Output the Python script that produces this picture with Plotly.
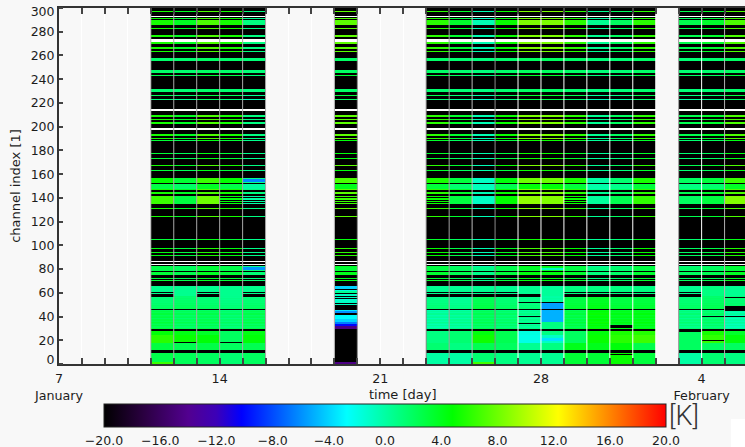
import plotly.graph_objects as go

FONT = "DejaVu Sans"
INK = "#1c1c1c"
BG = "#f8f8f8"

# Time axis (day number counted from 1 January; day 32 = 1 February)
x_tick_days = [7, 14, 21, 28, 35]
x_tick_text = ["7<br>January", "14", "21", "28", "4<br>February"]
all_days = list(range(7, 37))

# Channel axis
y_tick_pos = [3.4, 20, 40, 60, 80, 100, 120, 140, 160, 180, 200, 220, 240, 260, 280, 296.6]
y_tick_text = ["0", "20", "40", "60", "80", "100", "120", "140", "160", "180", "200", "220", "240", "260", "280", "300"]
channels = list(range(0, 301))

# Overall level of each measured day (K), upper channels
day_level = {11: 5.4, 12: 3.8, 13: 7.0, 14: 5.4, 15: 1.0, 19: 7.5,
             23: 6.0, 24: 3.5, 25: -0.5, 26: 5.0, 27: 8.5, 28: 8.5, 29: 6.0,
             30: 0.5, 31: 2.0, 32: 6.0, 34: 2.5, 35: 3.5, 36: 7.0}

# Upper channel lines: first channel, last channel, base (K), share of the day level
line_lo = [297, 291, 286, 283, 276, 270, 266, 263, 256, 246, 243, 230, 226, 223, 209, 206, 203, 193, 190, 188,
           177, 173, 167, 163, 153, 148, 147, 144, 131, 124, 105, 97, 94, 91, 82, 79, 75, 72, 70]
line_hi = [297, 291, 289, 283, 277, 271, 267, 263, 257, 247, 243, 231, 226, 223, 209, 206, 203, 193, 190, 188,
           177, 173, 167, 163, 156, 151, 147, 144, 131, 124, 105, 97, 94, 91, 82, 81, 77, 72, 70]
line_base = [0, -0.5, 0, 0, 0, 0, 0, 0, 1.2, 1.2, 1.0, 1.0, 0, -1, 0, 0, 0, 0, 0, 0,
             0, 0, 0, 0, -0.5, -0.5, 0, 0, 0, 0, 0, 0, 0, 0, 0, 1.0, 1.0, 1.0, 1.0]
line_gain = [1, 1, 1, 1, 1, 1, 1, 1, 0.1, 0.1, 0.3, 0.1, 0.4, 0.4, 1, 1, 1, 1, 1, 0.6,
             0.6, 0.6, 1, 0.6, 1, 0.6, 1, 1, 1, 1, 0.6, 0.8, 0.8, 0.8, 0.5, 0.3, 0.4, 0.4, 0.4]

# Rows without data, drawn white
white_rows = [293, 273, 272, 214, 198, 86, 84]

# Thick band at channels 135-141 (None = only thin lines that day)
thick_days = {11: 6.5, 12: 2.9, 13: 8.0, 14: None, 15: None, 19: None,
              23: None, 24: 2.9, 25: -1.0, 26: 4.8, 27: 9.0, 28: 8.6, 29: None,
              30: 0.2, 31: 2.4, 32: 6.2, 34: 2.0, 35: 2.9, 36: 8.6}
thick_thin_rows = [141, 139, 137, 135]

# Lower bands: channel limits and values (K) per day
low_lo = [0, 12, 18, 25, 30, 47, 59]
low_hi = [9, 17, 24, 27, 45, 57, 65]
low_values = {
    11: [2.6, 2.9, 6.0, 4.6, 2.6, 1.5, 0.6],
    12: [2.2, 2.4, 5.0, 4.2, 2.0, 1.8, 0.6],
    13: [2.0, 2.7, 4.6, 3.6, 2.2, 1.5, 0.6],
    14: [1.5, 2.0, 2.0, 2.0, 1.5, 1.0, 0.6],
    15: [2.0, 2.4, 4.6, 4.2, 2.2, 1.5, 0.6],
    23: [0.0, 1.5, 1.0, 1.0, 0.0, 1.0, 0.5],
    24: [0.0, 1.0, 1.5, 1.5, 0.3, 0.5, 0.5],
    25: [1.5, 2.4, 5.2, 4.4, 2.0, 2.4, 0.5],
    26: [1.0, 2.0, 2.4, 2.4, 1.5, 1.5, 0.5],
    27: [0.5, 0.5, -2.0, -1.8, 0.5, 1.0, 0.5],
    28: [0.5, 1.0, -1.0, 1.0, 1.0, 0.3, 0.3],
    29: [3.2, 4.0, 2.0, 2.0, 2.6, 2.9, 1.0],
    30: [3.2, 4.0, 5.0, 4.5, 4.5, 3.8, 1.0],
    31: [5.0, 4.5, 6.0, 5.5, 3.8, 2.9, 1.0],
    32: [3.0, 2.6, 6.6, 5.8, 4.0, 3.0, 1.0],
    34: [0.0, 2.0, 2.0, 2.0, 1.0, 1.5, 0.5],
    35: [1.5, 2.0, 6.2, 5.4, 1.5, 2.0, 1.0],
    36: [1.0, 2.0, 4.5, 3.5, -0.3, 1.5, 0.5],
}
# Fine stripes in channels 30-45 and 47-57 (K)
stripes_30_45 = [0.5, -0.3, 0.4, -0.4, 0.2, 0.6, -0.2, 0.3, -0.5, 0.4, 0.1, -0.3, 0.5, -0.2, 0.3, -0.4]
stripes_47_57 = [0.5, 0.2, 0.4, 0.0, 0.2, -0.1, 0.0, -0.3, -0.1, -0.4, -0.3]

# Channels that are black on every day with lower data
low_black_all = [10, 11, 28, 29, 46]
low_black_some_days = [11, 13, 15, 23, 24, 25, 26, 29, 30, 31, 32, 34]
low_black_some_rows = [60, 58, 57]
low_black_extra = [(12, 18), (14, 18), (27, 52), (27, 40), (27, 34), (27, 58), (27, 57), (28, 52), (31, 32), (31, 31),
                   (31, 8), (34, 27), (35, 40), (35, 20), (36, 56), (36, 45), (36, 47), (36, 48), (36, 40)]

# Day 19 lower channels: first, last, value (K)
d19_lo = [64, 62, 60, 58, 56, 54, 52, 50, 45, 43, 38, 36, 34, 32, 30, 0]
d19_hi = [65, 62, 61, 58, 56, 54, 53, 50, 45, 44, 41, 37, 35, 33, 31, 1]
d19_val = [-4.0, -1.5, 0.5, -1.0, -1.0, -1.5, -1.0, -1.0, -3.5, -6.0, -2.8, -4.0, -6.5, -10.0, -14.5, -14.5]

# Isolated patches: day, first channel, last channel, value (K)
patch_day = [28, 28, 28, 28, 28, 15, 15, 28, 11, 25]
patch_lo = [47, 36, 20, 22, 30, 154, 80, 80, 0, 0]
patch_hi = [51, 45, 21, 24, 35, 155, 81, 80, 1, 1]
patch_val = [-5.5, -5.0, -3.5, -1.0, 1.0, -6.2, -5.8, -1.0, 6.5, 6.7]

# Seams between daily columns
seam_days = [11, 12, 13, 14, 15, 16, 19, 20, 23, 24, 25, 26, 27, 28, 29, 30, 31, 32, 33, 34, 35, 36]
seam_colors = ["#a8a8a8", "#a8a8a8", "#a8a8a8", "#a8a8a8", "#a8a8a8", "#a8a8a8", "#a8a8a8", "#a8a8a8",
               "#888888", "#a0a0a0", "#bbbbbb", "#8a8a8a", "#ffffff", "#ffffff", "#ffffff", "#ffffff", "#ffffff",
               "#ffffff", "#ffffff", "#909090", "#ffffff", "#b0b0b0"]

cb_ticks = [-20, -16, -12, -8, -4, 0, 4, 8, 12, 16, 20]
colorscale = [[0.0, "#000000"], [0.07, "#2a0040"], [0.15, "#520090"], [0.2, "#3c00b8"], [0.245, "#0000ff"],
              [0.432, "#00ffff"], [0.62, "#00ff00"], [0.808, "#ffff00"], [1.0, "#ff0000"]]

# Pixel geometry of the colour bar (used to place it and its inner tick marks)
PLOT_L, PLOT_W, PLOT_B, PLOT_H = 59, 686, 364, 356
CB_L, CB_W, CB_T, CB_H = 104, 562, 404, 23


def px(v):
    return (v - PLOT_L) / PLOT_W


def py(v):
    return (PLOT_B - v) / PLOT_H


cols = {d: {c: None for c in channels} for d in all_days}
for d, level in day_level.items():
    col = cols[d]
    for c in channels:
        col[c] = -20
    for lo, hi, base, gain in zip(line_lo, line_hi, line_base, line_gain):
        for c in range(lo, hi + 1):
            col[c] = base + gain * level
    for c in white_rows:
        col[c] = None
    thick = thick_days[d]
    if thick is None:
        for c in thick_thin_rows:
            col[c] = level - 1
    else:
        for c in range(135, 142):
            col[c] = thick
    if d == 19:
        for lo, hi, v in zip(d19_lo, d19_hi, d19_val):
            for c in range(lo, hi + 1):
                col[c] = v
        continue
    vals = low_values[d]
    for lo, hi, v in zip(low_lo, low_hi, vals):
        for c in range(lo, hi + 1):
            col[c] = v
    for c, s in zip(range(30, 46), stripes_30_45):
        col[c] += s
    for c, s in zip(range(47, 58), stripes_47_57):
        col[c] += s
    for c in (58, 59):
        col[c] = vals[6]
    for c in low_black_all:
        col[c] = -20
    if d in low_black_some_days:
        for c in low_black_some_rows:
            col[c] = -20

for d, lo, hi, v in zip(patch_day, patch_lo, patch_hi, patch_val):
    for c in range(lo, hi + 1):
        cols[d][c] = v
for d, c in low_black_extra:
    cols[d][c] = -20

z = [[cols[d][c] for d in all_days] for c in channels]
under = [[1 if d in day_level else None for d in all_days] for c in channels]
x_centers = [d + 0.5 for d in all_days]

fig = go.Figure()
fig.add_trace(go.Heatmap(x=x_centers, y=channels, z=under, showscale=False,
                         colorscale=[[0, "#ffffff"], [1, "#ffffff"]], hoverinfo="skip"))
fig.add_trace(go.Heatmap(
    x=x_centers, y=channels, z=z, zmin=-20, zmax=20, colorscale=colorscale, hoverongaps=False,
    colorbar=dict(orientation="h", x=px(CB_L), xanchor="left", y=py(CB_T), yanchor="top",
                  len=CB_W, lenmode="pixels", thickness=CB_H, thicknessmode="pixels", xpad=0, ypad=0,
                  outlinecolor="#222222", outlinewidth=1,
                  tickmode="array", tickvals=cb_ticks, tickformat=".1f", ticks="outside", ticklen=3,
                  tickwidth=1, tickcolor=BG, tickfont=dict(family=FONT, size=12.5, color=INK)),
))
for color in sorted(set(seam_colors)):
    xs, ys = [], []
    for d, col in zip(seam_days, seam_colors):
        if col == color:
            xs += [d, d, None]
            ys += [0, 300, None]
    fig.add_trace(go.Scatter(x=xs, y=ys, mode="lines", line=dict(color=color, width=1),
                             showlegend=False, hoverinfo="skip"))

shapes = [dict(type="rect", xref="paper", yref="paper", x0=px(731), x1=1.0, y0=py(447), y1=py(419),
               fillcolor="#ffffff", line=dict(width=0), layer="above")]
for v in cb_ticks[1:-1]:
    tx = px(CB_L + (v + 20) / 40 * CB_W)
    for y0, y1 in ((CB_T, CB_T + 3), (CB_T + CB_H - 3, CB_T + CB_H)):
        shapes.append(dict(type="line", xref="paper", yref="paper", x0=tx, x1=tx, y0=py(y0), y1=py(y1),
                           line=dict(color="#333333", width=1), layer="above"))

fig.update_layout(
    width=745, height=447, margin=dict(l=PLOT_L, r=0, t=8, b=83, autoexpand=False),
    paper_bgcolor=BG, plot_bgcolor=BG, showlegend=False,
    font=dict(family=FONT, size=12, color=INK),
    xaxis=dict(range=[7, 36.89], tickmode="array", tickvals=x_tick_days, ticktext=x_tick_text,
               ticks="inside", ticklen=6, tickwidth=2, tickcolor="#444444",
               showline=True, linecolor="#333333", linewidth=2, mirror="ticks", zeroline=False,
               showgrid=True, gridcolor="#ffffff", gridwidth=1,
               minor=dict(tick0=7, dtick=1, ticks="inside", ticklen=6, tickwidth=2, tickcolor="#444444",
                          showgrid=True, gridcolor="#ffffff", gridwidth=1),
               tickfont=dict(family=FONT, size=12.7, color=INK), ticklabelstandoff=2),
    yaxis=dict(range=[0, 300], tickmode="array", tickvals=y_tick_pos, ticktext=y_tick_text, ticks="",
               showline=True, linecolor="#333333", linewidth=2, zeroline=False, showgrid=False,
               minor=dict(tick0=0, dtick=20, ticks="inside", ticklen=4, tickwidth=2, tickcolor="#444444",
                          showgrid=False),
               tickfont=dict(family=FONT, size=12.5, color=INK),
               title=dict(text="channel index [1]", font=dict(family=FONT, size=13, color=INK), standoff=7)),
    annotations=[
        dict(text="time [day]", xref="paper", yref="paper", x=px(403), y=py(394),
             xanchor="center", yanchor="middle", showarrow=False, font=dict(family=FONT, size=13, color=INK)),
        dict(text="[K]", xref="paper", yref="paper", x=px(683.5), y=py(416),
             xanchor="center", yanchor="middle", showarrow=False,
             font=dict(family="Roboto", size=27, color="#333333", weight=300)),
    ],
    shapes=shapes,
)

fig.write_html("out.html", config={"displayModeBar": False},
               post_script="document.body.style.margin='0';document.body.style.background='#f8f8f8';")
